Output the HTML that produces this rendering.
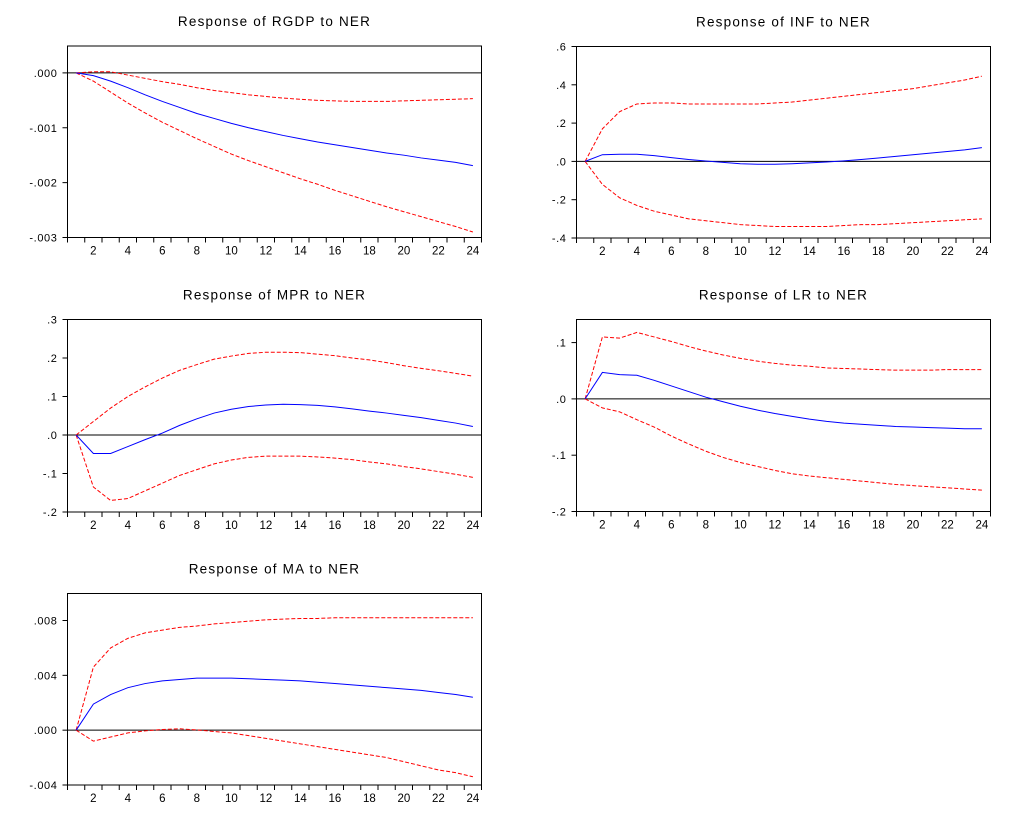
<!DOCTYPE html>
<html><head><meta charset="utf-8"><style>
html,body{margin:0;padding:0;background:#fff;}
svg{display:block;font-family:"Liberation Sans",Arial,sans-serif;}
.t{font-size:13.5px;letter-spacing:1.2px;fill:#000;}
.yl{font-size:11px;letter-spacing:0.6px;fill:#000;}
.xl{font-size:11.5px;fill:#000;}
</style></head><body>
<svg id="chart" width="1028" height="818" viewBox="0 0 1028 818" xmlns="http://www.w3.org/2000/svg"></svg>
<script>
const periods = [1,2,3,4,5,6,7,8,9,10,11,12,13,14,15,16,17,18,19,20,21,22,23,24];
const xTickLabels = [2,4,6,8,10,12,14,16,18,20,22,24];

const rgdpMid = [0,-0.05,-0.15,-0.27,-0.4,-0.52,-0.63,-0.74,-0.83,-0.92,-1.0,-1.07,-1.14,-1.2,-1.26,-1.31,-1.36,-1.41,-1.46,-1.5,-1.55,-1.59,-1.63,-1.69].map(v=>v/1000);
const rgdpUp = [0,0.02,0.02,-0.04,-0.1,-0.16,-0.21,-0.27,-0.32,-0.36,-0.4,-0.43,-0.46,-0.48,-0.5,-0.51,-0.52,-0.52,-0.52,-0.51,-0.5,-0.49,-0.48,-0.47].map(v=>v/1000);
const rgdpLo = [0,-0.15,-0.35,-0.55,-0.73,-0.9,-1.05,-1.2,-1.34,-1.48,-1.6,-1.71,-1.82,-1.93,-2.03,-2.14,-2.24,-2.34,-2.44,-2.53,-2.62,-2.71,-2.8,-2.9].map(v=>v/1000);
const rgdpTicks = [0,-0.001,-0.002,-0.003];
const rgdpTickLabels = [".000","-.001","-.002","-.003"];

const infMid = [0,.035,.037,.037,.03,.02,.01,.002,-.005,-.012,-.015,-.015,-.012,-.008,-.003,.003,.01,.018,.026,.035,.043,.052,.06,.072];
const infUp = [0,.17,.26,.30,.305,.305,.30,.30,.30,.30,.30,.305,.31,.32,.33,.34,.35,.36,.37,.38,.395,.41,.425,.445];
const infLo = [0,-.12,-.19,-.23,-.26,-.28,-.30,-.31,-.32,-.33,-.335,-.34,-.34,-.34,-.34,-.335,-.33,-.33,-.325,-.32,-.315,-.31,-.305,-.30];
const infTicks = [.6,.4,.2,0,-.2,-.4];
const infTickLabels = [".6",".4",".2",".0","-.2","-.4"];

const mprMid = [0,-.048,-.048,-.03,-.012,.005,.025,.042,.057,.067,.074,.078,.080,.079,.077,.073,.068,.062,.057,.051,.045,.038,.031,.022];
const mprUp = [0,.035,.07,.1,.125,.148,.168,.183,.197,.205,.212,.215,.215,.214,.21,.206,.2,.195,.188,.18,.173,.167,.16,.153];
const mprLo = [0,-.135,-.17,-.165,-.145,-.125,-.105,-.09,-.075,-.065,-.058,-.055,-.055,-.055,-.057,-.06,-.064,-.07,-.075,-.082,-.088,-.095,-.102,-.11];
const mprTicks = [.3,.2,.1,0,-.1,-.2];
const mprTickLabels = [".3",".2",".1",".0","-.1","-.2"];

const lrMid = [0,.047,.043,.042,.033,.023,.013,.003,-.005,-.013,-.02,-.026,-.031,-.036,-.04,-.043,-.045,-.047,-.049,-.05,-.051,-.052,-.053,-.053];
const lrUp = [0,.11,.108,.118,.11,.102,.093,.085,.078,.072,.067,.063,.06,.058,.055,.054,.053,.052,.051,.051,.051,.052,.052,.052];
const lrLo = [0,-.016,-.023,-.037,-.05,-.066,-.08,-.093,-.104,-.113,-.12,-.127,-.133,-.137,-.14,-.143,-.146,-.149,-.152,-.154,-.156,-.158,-.16,-.162];
const lrTicks = [.1,0,-.1,-.2];
const lrTickLabels = [".1",".0","-.1","-.2"];

const maMid = [0,1.9,2.6,3.1,3.4,3.6,3.7,3.8,3.8,3.8,3.75,3.7,3.65,3.6,3.5,3.4,3.3,3.2,3.1,3.0,2.9,2.75,2.6,2.4].map(v=>v/1000);
const maUp = [0,4.6,6.0,6.7,7.1,7.3,7.5,7.6,7.75,7.85,7.95,8.05,8.1,8.15,8.15,8.2,8.2,8.2,8.2,8.2,8.2,8.2,8.2,8.2].map(v=>v/1000);
const maLo = [0,-0.8,-0.5,-0.2,-0.05,0.05,0.1,0.02,-0.1,-0.2,-0.4,-0.6,-0.8,-1.0,-1.2,-1.4,-1.6,-1.8,-2.0,-2.3,-2.6,-2.9,-3.1,-3.4].map(v=>v/1000);
const maTicks = [.008,.004,0,-.004];
const maTickLabels = [".008",".004",".000","-.004"];

const svg = document.getElementById('chart');
const NS = 'http://www.w3.org/2000/svg';
function mk(tag, attrs, parent){
  const e = document.createElementNS(NS, tag);
  for (const k in attrs) e.setAttribute(k, attrs[k]);
  parent.appendChild(e);
  return e;
}

function panel(cfg){
  const g = mk('g', {}, svg);
  
  
  const L=cfg.x0, R=cfg.x1, T=cfg.y0, B=cfg.y1;
  const n = periods.length;
  const step = (R-L)/n;
  const xs = p => L + step*(p-0.5);
  const ys = v => T + (cfg.max - v)/(cfg.max-cfg.min)*(B-T);

  const title = mk('text', {x:(L+R)/2, y:T-20, 'text-anchor':'middle', class:'t'}, g);
  
  
  title.textContent = cfg.title;

  const box = mk('rect', {x:L, y:T, width:R-L, height:B-T, fill:'none', stroke:'#000', 'stroke-width':1}, g);
  
  

  // y ticks
  cfg.ticks.forEach((v,i)=>{
    const y = ys(v);
    mk('line', {x1:L-5, x2:L, y1:y, y2:y, stroke:'#000'}, g);
    const t = mk('text', {x:L-10, y:y+4, 'text-anchor':'end', class:'yl'}, g);
    
    
    t.textContent = cfg.tickLabels[i];
  });
  // x ticks
  for (let k=0;k<=n;k++){
    const x = L + step*k;
    mk('line', {x1:x, x2:x, y1:B, y2:B+5, stroke:'#000'}, g);
  }
  xTickLabels.forEach(p=>{
    const t = mk('text', {x:xs(p), y:B+17, 'text-anchor':'middle', class:'xl'}, g);
    
    
    t.textContent = p;
  });
  // zero line
  const z = mk('line', {x1:L, x2:R, y1:ys(0), y2:ys(0), stroke:'#000', 'stroke-width':1}, g);
  
  

  const path = arr => arr.map((v,i)=>(i?'L':'M')+xs(periods[i]).toFixed(2)+','+ys(v).toFixed(2)).join(' ');
  const up = mk('path', {d:path(cfg.up), fill:'none', stroke:'#ff0000', 'stroke-width':1, 'stroke-dasharray':'4,2'}, g);
  
  
  const lo = mk('path', {d:path(cfg.lo), fill:'none', stroke:'#ff0000', 'stroke-width':1, 'stroke-dasharray':'4,2'}, g);
  
  
  const mid = mk('path', {d:path(cfg.mid), fill:'none', stroke:'#0000ff', 'stroke-width':1}, g);
  
  
}

panel({name:'panel-rgdp', title:'Response of RGDP to NER', x0:67.5, x1:481.5, y0:46, y1:237.5, min:-0.003, max:0.00049, ticks:rgdpTicks, tickLabels:rgdpTickLabels, mid:rgdpMid, up:rgdpUp, lo:rgdpLo});
panel({name:'panel-inf', title:'Response of INF to NER', x0:576.5, x1:990.5, y0:46.5, y1:238, min:-0.4, max:0.6, ticks:infTicks, tickLabels:infTickLabels, mid:infMid, up:infUp, lo:infLo});
panel({name:'panel-mpr', title:'Response of MPR to NER', x0:67.5, x1:481.5, y0:319.5, y1:512, min:-0.2, max:0.3, ticks:mprTicks, tickLabels:mprTickLabels, mid:mprMid, up:mprUp, lo:mprLo});
panel({name:'panel-lr', title:'Response of LR to NER', x0:576.5, x1:990.5, y0:319.5, y1:511.5, min:-0.2, max:0.141, ticks:lrTicks, tickLabels:lrTickLabels, mid:lrMid, up:lrUp, lo:lrLo});
panel({name:'panel-ma', title:'Response of MA to NER', x0:67.5, x1:481.5, y0:593.5, y1:785, min:-0.004, max:0.00997, ticks:maTicks, tickLabels:maTickLabels, mid:maMid, up:maUp, lo:maLo});
</script>
</body></html>
